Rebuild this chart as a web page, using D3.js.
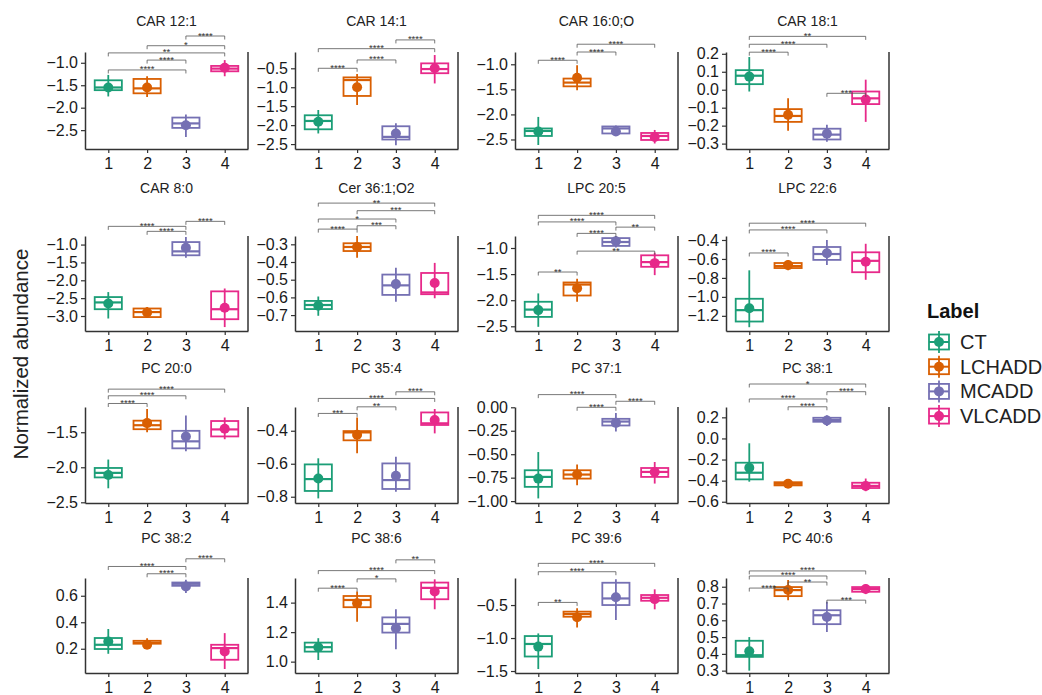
<!DOCTYPE html>
<html>
<head>
<meta charset="utf-8">
<script src="https://cdn.jsdelivr.net/npm/d3@7"></script>
<style>
  body { margin: 0; background: #fff; }
  svg { font-family: "Liberation Sans", Arial, sans-serif; }
</style>
</head>
<body>
<div id="chart"></div>
<script>
// ========== Data ==========
const groups = ["CT", "LCHADD", "MCADD", "VLCADD"];
const xTickLabels = ["1", "2", "3", "4"];
const lipids = [
    "CAR 12:1", "CAR 14:1", "CAR 16:0;O", "CAR 18:1",
    "CAR 8:0", "Cer 36:1;O2", "LPC 20:5", "LPC 22:6",
    "PC 20:0", "PC 35:4", "PC 37:1", "PC 38:1",
    "PC 38:2", "PC 38:6", "PC 39:6", "PC 40:6"
];

// y range shown in each panel
const yDomains = [
    [-2.92, -0.76], [-2.63, -0.07], [-2.69, -0.755], [-0.33, 0.21],
    [-3.42, -0.76], [-0.79, -0.253], [-2.59, -0.77], [-1.36, -0.358],
    [-2.51, -1.14], [-0.838, -0.256], [-1.02, 0.003], [-0.612, 0.298],
    [0.017, 0.734], [0.923, 1.567], [-1.53, -0.09], [0.286, 0.852]
];

const yTicks = [
    [-2.5, -2.0, -1.5, -1.0], [-2.5, -2.0, -1.5, -1.0, -0.5], [-2.5, -2.0, -1.5, -1.0], [-0.3, -0.2, -0.1, 0.0, 0.1, 0.2],
    [-3.0, -2.5, -2.0, -1.5, -1.0], [-0.7, -0.6, -0.5, -0.4, -0.3], [-2.5, -2.0, -1.5, -1.0], [-1.2, -1.0, -0.8, -0.6, -0.4],
    [-2.5, -2.0, -1.5], [-0.8, -0.6, -0.4], [-1.0, -0.75, -0.5, -0.25, 0.0], [-0.6, -0.4, -0.2, 0.0, 0.2],
    [0.2, 0.4, 0.6], [1.0, 1.2, 1.4], [-1.5, -1.0, -0.5], [0.3, 0.4, 0.5, 0.6, 0.7, 0.8]
];

// box statistics, one row per panel, one value per group
const q1 = [
    [-1.61, -1.68, -2.45, -1.19], [-2.11, -1.23, -2.38, -0.63], [-2.43, -1.44, -2.38, -2.51], [0.031, -0.179, -0.277, -0.08],
    [-2.81, -3.03, -1.30, -3.09], [-0.666, -0.338, -0.586, -0.582], [-2.32, -1.91, -0.96, -1.36], [-1.26, -0.696, -0.61, -0.74],
    [-2.145, -1.457, -1.73, -1.56], [-0.765, -0.458, -0.753, -0.365], [-0.848, -0.76, -0.194, -0.742], [-0.388, -0.445, 0.158, -0.47],
    [0.198, 0.238, 0.675, 0.117], [1.068, 1.369, 1.197, 1.423], [-1.28, -0.677, -0.50, -0.435], [0.382, 0.744, 0.577, 0.77]
];
const medians = [
    [-1.55, -1.57, -2.35, -1.13], [-1.89, -0.81, -2.31, -0.52], [-2.33, -1.365, -2.28, -2.43], [0.078, -0.146, -0.25, -0.048],
    [-2.62, -2.89, -1.19, -2.81], [-0.643, -0.315, -0.532, -0.572], [-2.18, -1.70, -0.885, -1.27], [-1.14, -0.675, -0.548, -0.62],
    [-2.08, -1.40, -1.63, -1.46], [-0.693, -0.41, -0.699, -0.355], [-0.742, -0.717, -0.152, -0.689], [-0.325, -0.43, 0.175, -0.45],
    [0.23, 0.245, 0.69, 0.205], [1.098, 1.418, 1.256, 1.50], [-1.09, -0.636, -0.40, -0.39], [0.392, 0.78, 0.63, 0.786]
];
const q3 = [
    [-1.39, -1.36, -2.22, -1.07], [-1.74, -0.74, -2.03, -0.37], [-2.28, -1.285, -2.24, -2.37], [0.109, -0.108, -0.217, -0.01],
    [-2.47, -2.79, -0.93, -2.31], [-0.62, -0.294, -0.471, -0.462], [-2.03, -1.66, -0.81, -1.14], [-1.02, -0.643, -0.474, -0.53],
    [-2.01, -1.335, -1.48, -1.34], [-0.604, -0.402, -0.598, -0.289], [-0.671, -0.671, -0.123, -0.647], [-0.23, -0.415, 0.196, -0.42],
    [0.281, 0.26, 0.70, 0.23], [1.129, 1.445, 1.30, 1.536], [-0.97, -0.60, -0.162, -0.348], [0.478, 0.798, 0.66, 0.798]
];
const whiskerLo = [
    [-1.75, -1.76, -2.65, -1.30], [-2.22, -1.47, -2.53, -0.90], [-2.61, -1.52, -2.42, -2.58], [-0.01, -0.228, -0.29, -0.179],
    [-3.07, -3.05, -1.37, -3.31], [-0.704, -0.376, -0.624, -0.605], [-2.51, -2.03, -0.99, -1.52], [-1.32, -0.72, -0.664, -0.82],
    [-2.30, -1.50, -1.77, -1.60], [-0.81, -0.537, -0.77, -0.416], [-0.971, -0.83, -0.258, -0.813], [-0.41, -0.46, 0.118, -0.50],
    [0.162, 0.205, 0.62, 0.047], [1.011, 1.271, 1.084, 1.355], [-1.47, -0.84, -0.727, -0.565], [0.30, 0.72, 0.53, 0.756]
];
const whiskerHi = [
    [-1.27, -1.30, -2.15, -0.94], [-1.60, -0.65, -1.95, -0.15], [-2.05, -1.02, -2.22, -2.31], [0.182, -0.048, -0.195, 0.056],
    [-2.33, -2.75, -0.79, -2.23], [-0.595, -0.253, -0.433, -0.405], [-1.87, -1.59, -0.77, -1.09], [-0.72, -0.61, -0.40, -0.44],
    [-1.89, -1.17, -1.26, -1.29], [-0.567, -0.32, -0.557, -0.268], [-0.477, -0.611, -0.06, -0.583], [-0.046, -0.40, 0.22, -0.38],
    [0.349, 0.28, 0.72, 0.318], [1.159, 1.475, 1.355, 1.558], [-0.93, -0.55, -0.11, -0.262], [0.50, 0.84, 0.71, 0.816]
];
const means = [
    [-1.55, -1.55, -2.39, -1.11], [-1.91, -1.00, -2.22, -0.50], [-2.34, -1.27, -2.34, -2.45], [0.073, -0.14, -0.245, -0.055],
    [-2.65, -2.90, -1.09, -2.77], [-0.647, -0.315, -0.525, -0.519], [-2.19, -1.77, -0.87, -1.29], [-1.12, -0.665, -0.54, -0.63],
    [-2.11, -1.37, -1.56, -1.45], [-0.689, -0.424, -0.673, -0.335], [-0.76, -0.717, -0.166, -0.689], [-0.278, -0.43, 0.17, -0.45],
    [0.255, 0.23, 0.67, 0.18], [1.098, 1.395, 1.226, 1.475], [-1.13, -0.686, -0.383, -0.41], [0.415, 0.78, 0.62, 0.786]
];

// significance brackets: [group a, group b, label, height in data units]
const brackets = [
    [[3, 4, "****", -0.404], [2, 4, "*", -0.62], [1, 4, "**", -0.78], [2, 3, "****", -0.94], [1, 3, "****", -1.16]],
    [[3, 4, "****", 0.249], [1, 4, "****", 0.018], [2, 3, "****", -0.28], [1, 2, "****", -0.5]],
    [[2, 4, "****", -0.60], [2, 3, "****", -0.755], [1, 2, "****", -0.92]],
    [[1, 4, "**", 0.297], [1, 3, "****", 0.253], [1, 2, "****", 0.209], [3, 4, "***", -0.02]],
    [[3, 4, "****", -0.35], [1, 3, "****", -0.49], [2, 3, "****", -0.63]],
    [[1, 4, "**", -0.067], [2, 4, "***", -0.11], [1, 3, "*", -0.157], [2, 3, "***", -0.195], [1, 2, "****", -0.214]],
    [[1, 4, "****", -0.374], [1, 3, "****", -0.50], [3, 4, "**", -0.60], [2, 3, "****", -0.72], [2, 4, "**", -1.06], [1, 2, "**", -1.46]],
    [[1, 4, "****", -0.223], [1, 3, "****", -0.294], [1, 2, "****", -0.537]],
    [[1, 4, "****", -0.885], [1, 3, "****", -0.98], [1, 2, "****", -1.09]],
    [[3, 4, "****", -0.164], [1, 4, "****", -0.204], [2, 3, "**", -0.255], [1, 2, "***", -0.295]],
    [[1, 3, "****", 0.135], [3, 4, "****", 0.064], [2, 3, "****", 0.0]],
    [[1, 4, "*", 0.516], [3, 4, "****", 0.443], [1, 3, "****", 0.374], [2, 3, "****", 0.30]],
    [[3, 4, "****", 0.879], [1, 3, "****", 0.821], [2, 3, "****", 0.766]],
    [[3, 4, "**", 1.69], [1, 4, "****", 1.617], [2, 3, "*", 1.561], [1, 2, "****", 1.498]],
    [[1, 4, "****", 0.132], [1, 3, "****", 0.005], [1, 2, "**", -0.46]],
    [[1, 4, "****", 0.894], [1, 3, "****", 0.864], [2, 3, "**", 0.828], [1, 2, "****", 0.792], [3, 4, "***", 0.72]]
];

// ========== Layout ==========
const width = 1042, height = 695;
const colors = ["#1b9e77", "#d95f02", "#7570b3", "#e7298a"];
const colLeft = [85, 295, 515, 726];
const rowTop = [52, 236, 407, 578];
const rowBottom = [149, 331, 503, 673];
const titleY = [26, 193, 373, 543];
const panelW = 163;
const axisColor = "#333";

const svg = d3.select("#chart")
    .append("svg")
    .attr("width", width)
    .attr("height", height);

function decimals(ticks) {
    return d3.max(ticks, t => {
        const s = String(t);
        const k = s.indexOf(".");
        return k < 0 ? 1 : s.length - k - 1;
    });
}

// ========== Panels ==========
lipids.forEach((name, i) => {
    const col = i % 4, row = Math.floor(i / 4);
    const x0 = colLeft[col], yTop = rowTop[row], yBot = rowBottom[row];

    const x = d3.scaleLinear().domain([0.4, 4.6]).range([x0, x0 + panelW]);
    const y = d3.scaleLinear().domain(yDomains[i]).range([yBot, yTop]);
    const g = svg.append("g");

    // Title
    g.append("text")
        .attr("x", x0 + panelW / 2)
        .attr("y", titleY[row])
        .attr("text-anchor", "middle")
        .attr("font-size", 14)
        .attr("fill", "#222")
        .text(name);

    // Y axis
    const fmt = d3.format("." + decimals(yTicks[i]) + "f");
    const ya = g.append("g")
        .attr("transform", `translate(${x0},0)`)
        .call(d3.axisLeft(y).tickValues(yTicks[i]).tickFormat(fmt)
            .tickSize(4).tickSizeOuter(0).tickPadding(3));

    // X axis
    const xa = g.append("g")
        .attr("transform", `translate(0,${yBot})`)
        .call(d3.axisBottom(x).tickValues([1, 2, 3, 4]).tickFormat((d, j) => xTickLabels[j])
            .tickSize(4).tickSizeOuter(0).tickPadding(5));

    [ya, xa].forEach(a => {
        a.select(".domain").attr("stroke", axisColor).attr("stroke-width", 1.5);
        a.selectAll(".tick line").attr("stroke", axisColor).attr("stroke-width", 1.2);
        a.selectAll(".tick text")
            .attr("font-size", 16)
            .attr("fill", "#1a1a1a")
            .attr("font-family", "'Liberation Sans', Arial, sans-serif");
    });

    // right border line
    g.append("line")
        .attr("x1", x0 + panelW).attr("x2", x0 + panelW)
        .attr("y1", yTop).attr("y2", yBot)
        .attr("stroke", axisColor)
        .attr("stroke-width", 1.5);

    // Boxes
    groups.forEach((grp, j) => {
        const cx = x(j + 1);
        const half = x(j + 1.35) - cx;
        const c = colors[j];

        g.append("rect")
            .attr("x", cx - half)
            .attr("y", y(q3[i][j]))
            .attr("width", half * 2)
            .attr("height", Math.max(1, y(q1[i][j]) - y(q3[i][j])))
            .attr("fill", "#fff")
            .attr("stroke", c)
            .attr("stroke-width", 1.8);

        g.append("line")
            .attr("x1", cx - half).attr("x2", cx + half)
            .attr("y1", y(medians[i][j])).attr("y2", y(medians[i][j]))
            .attr("stroke", c)
            .attr("stroke-width", 2.2);

        g.append("line")
            .attr("x1", cx).attr("x2", cx)
            .attr("y1", y(whiskerLo[i][j])).attr("y2", y(whiskerHi[i][j]))
            .attr("stroke", c)
            .attr("stroke-width", 1.8);

        g.append("circle")
            .attr("cx", cx)
            .attr("cy", y(means[i][j]))
            .attr("r", 5)
            .attr("fill", c);
    });

    // Significance brackets
    brackets[i].forEach(([a, b, label, v]) => {
        const yy = y(v);
        g.append("path")
            .attr("d", `M${x(a)},${yy + 3.5}V${yy}H${x(b)}V${yy + 3.5}`)
            .attr("fill", "none")
            .attr("stroke", "#555")
            .attr("stroke-width", 0.8);
        g.append("text")
            .attr("x", (x(a) + x(b)) / 2)
            .attr("y", yy + 2.5)
            .attr("text-anchor", "middle")
            .attr("font-size", 9.5)
            .attr("fill", "#333")
            .text(label);
    });
});

// ========== Y axis title ==========
svg.append("text")
    .attr("transform", "translate(28,354) rotate(-90)")
    .attr("text-anchor", "middle")
    .attr("font-size", 20.5)
    .attr("fill", "#222")
    .text("Normalized abundance");

// ========== Legend ==========
const legend = svg.append("g").attr("transform", "translate(927,0)");
legend.append("text")
    .attr("x", 0)
    .attr("y", 318)
    .attr("font-size", 20)
    .attr("font-weight", "bold")
    .attr("fill", "#111")
    .text("Label");

groups.forEach((grp, j) => {
    const cy = 342 + j * 24.7;
    const c = colors[j];
    legend.append("rect")
        .attr("x", 2).attr("y", cy - 7.5)
        .attr("width", 20).attr("height", 15)
        .attr("fill", "#fff")
        .attr("stroke", c)
        .attr("stroke-width", 1.8);
    legend.append("line")
        .attr("x1", 2).attr("x2", 22)
        .attr("y1", cy).attr("y2", cy)
        .attr("stroke", c).attr("stroke-width", 2);
    legend.append("line")
        .attr("x1", 12).attr("x2", 12)
        .attr("y1", cy - 11).attr("y2", cy + 11)
        .attr("stroke", c).attr("stroke-width", 1.8);
    legend.append("circle")
        .attr("cx", 12).attr("cy", cy)
        .attr("r", 5)
        .attr("fill", c);
    legend.append("text")
        .attr("x", 33)
        .attr("y", cy + 7)
        .attr("font-size", 20)
        .attr("fill", "#222")
        .text(grp);
});
</script>
</body>
</html>
